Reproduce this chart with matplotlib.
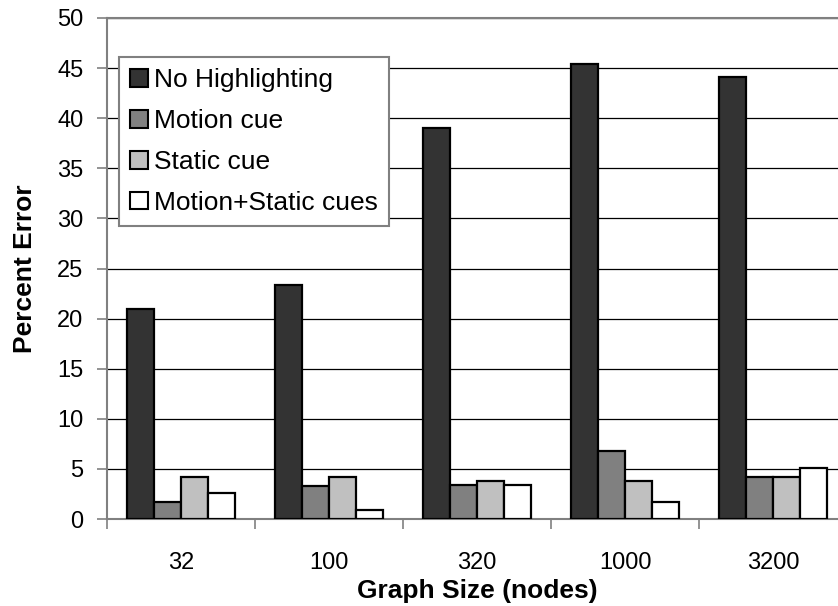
import matplotlib
matplotlib.use('Agg')
import matplotlib.pyplot as plt
import numpy as np
from matplotlib.patches import Patch

plt.rcParams['font.family'] = ['Liberation Sans', 'DejaVu Sans']

sizes = ['32', '100', '320', '1000', '3200']
series = ['No Highlighting', 'Motion cue', 'Static cue', 'Motion+Static cues']
no_highlight = [21.0, 23.4, 39.0, 45.4, 44.1]
motion = [1.7, 3.3, 3.4, 6.8, 4.2]
static = [4.2, 4.2, 3.8, 3.8, 4.2]
motion_static = [2.6, 0.9, 3.4, 1.7, 5.1]
colors = ['#333333', '#808080', '#c0c0c0', '#ffffff']

W, H = 838, 606
fig = plt.figure(figsize=(W / 100, H / 100), dpi=100)
# plot area runs a bit past the right edge, as in the original crop
ax = fig.add_axes([107 / W, 1 - 519 / H, 740 / W, 501 / H])

x = np.arange(len(sizes))
bw = 0.182
vals = [no_highlight, motion, static, motion_static]
for k, (v, c) in enumerate(zip(vals, colors)):
    ax.bar(x + (k - 1.5) * bw, v, bw, color=c, edgecolor='black', lw=1.6, zorder=3)

ax.set_xlim(-0.5, len(sizes) - 0.5)
ax.set_ylim(0, 50)
ax.set_yticks(np.arange(0, 51, 5))
ax.yaxis.grid(True, color='black', lw=0.9, zorder=0)
ax.set_axisbelow(True)

ax.set_xticks(x)
ax.set_xticklabels(sizes)
ax.tick_params(axis='x', length=0, pad=24, labelsize=17)
ax.set_xticks(np.arange(-0.5, len(sizes)), minor=True)
ax.tick_params(axis='x', which='minor', length=7, color='#808080', width=1.2)
ax.tick_params(axis='y', length=7, color='#808080', width=1.2, labelsize=17, pad=10)

for s in ['left', 'bottom', 'top']:
    ax.spines[s].set_color('#808080')
    ax.spines[s].set_linewidth(1.5)
ax.spines['right'].set_visible(False)

ax.set_ylabel('Percent Error', fontsize=19, fontweight='bold', va='center')
ax.yaxis.set_label_coords(-0.111, 0.5)
ax.set_xlabel('Graph Size (nodes)', fontsize=19, fontweight='bold', va='center')
ax.xaxis.set_label_coords(0.5, -0.144)

handles = [Patch(facecolor=c, edgecolor='black', lw=1.5) for c in colors]
leg = ax.legend(handles, series, loc='upper left', bbox_to_anchor=(119 / W, 1 - 57 / H),
                bbox_transform=fig.transFigure, borderaxespad=0, fontsize=19,
                handlelength=0.67, handleheight=0.67, handletextpad=0.25,
                labelspacing=0.64, borderpad=0.42, fancybox=False, framealpha=1)
leg.get_frame().set_edgecolor('#808080')
leg.get_frame().set_linewidth(1.5)

fig.savefig('out.png', dpi=100)
